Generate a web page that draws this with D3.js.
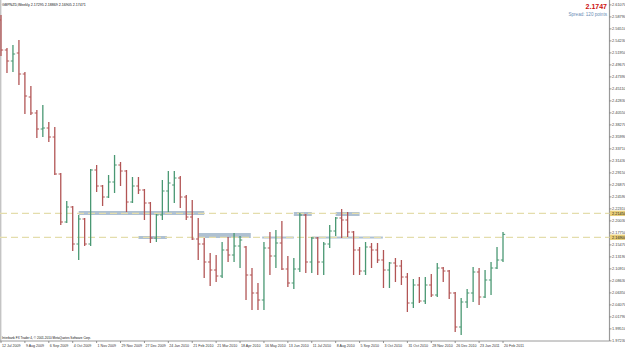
<!DOCTYPE html>
<html><head><meta charset="utf-8">
<script src="https://cdn.jsdelivr.net/npm/d3@7"></script>
<style>html,body{margin:0;padding:0;background:#fff;overflow:hidden}svg{display:block}</style>
</head><body><svg id="c" width="625" height="349"></svg>
<script>
// ---------------- data ----------------
const symbol = "GBPNZD,Weekly";
const titleValues = ["2.17295", "2.18869", "2.16905", "2.17471"];
const lastPrice = "2.1747";
const spreadText = "Spread: 120 points";
const footerText = "Interbank FX Trader 4, \u00A9 2001-2010 MetaQuotes Software Corp.";

// weekly bars, index 0 = week of 12 Jul 2009, index 84 = week of 20 Feb 2011
const opens = [2.5820,2.5250,2.5041,2.5193,2.4794,2.4357,2.4053,2.3749,2.3768,2.3597,
2.2894,2.1982,2.2267,2.1564,2.2039,2.1564,2.2970,2.2666,2.2457,2.2742,
2.3065,2.2951,2.2362,2.2666,2.2590,2.2343,2.1678,2.2115,2.2571,2.2685,
2.2818,2.2457,2.2077,2.1659,2.1564,2.1222,2.1070,2.0956,2.1450,2.1355,
2.1526,2.1507,2.0975,2.0633,2.0500,2.1488,2.1336,2.1583,2.1089,2.0823,
2.1089,2.2115,2.1222,2.1678,2.1222,2.1564,2.1811,2.2058,2.2020,2.1792,
2.1450,2.1051,2.1507,2.1450,2.1260,2.1070,2.1203,2.1146,2.0937,2.0443,
2.0785,2.0481,2.0785,2.0595,2.1108,2.1051,2.0633,1.9987,2.0462,2.0633,
2.1032,2.0557,2.0880,2.1108,2.1260];
const highs = [2.5915,2.5288,2.5345,2.5440,2.4832,2.4566,2.4110,2.4205,2.3882,2.3787,
2.2913,2.2381,2.2286,2.2115,2.2058,2.2989,2.3065,2.2685,2.2875,2.3255,
2.3122,2.2970,2.2837,2.2837,2.2609,2.2362,2.2134,2.2780,2.2951,2.2951,
2.2856,2.2495,2.2400,2.2058,2.1678,2.1393,2.1355,2.1602,2.1697,2.1773,
2.1716,2.1526,2.1108,2.0823,2.1602,2.1792,2.1830,2.2001,2.1336,2.1298,
2.2153,2.2134,2.1697,2.1697,2.1602,2.1925,2.2077,2.2229,2.2172,2.1811,
2.1507,2.1602,2.1583,2.1583,2.1450,2.1222,2.1298,2.1260,2.1013,2.0899,
2.0937,2.0937,2.0994,2.1203,2.1127,2.1070,2.0652,2.0538,2.0709,2.1127,
2.1108,2.1070,2.1222,2.1507,2.1790];
const lows = [2.5136,2.4813,2.4832,2.4585,2.4034,2.4015,2.3578,2.3597,2.3502,2.2875,
2.1925,2.1963,2.1431,2.1260,2.1526,2.1526,2.2552,2.2286,2.2438,2.2533,
2.2666,2.2172,2.2343,2.2514,2.2020,2.1583,2.1602,2.2020,2.2172,2.2343,
2.2248,2.2020,2.1640,2.1260,2.0918,2.0766,2.0842,2.0918,2.1222,2.1222,
2.1108,2.0500,2.0310,2.0310,2.0310,2.0975,2.1108,2.1070,2.0747,2.0709,
2.1032,2.1013,2.1013,2.0975,2.0975,2.1488,2.1716,2.1678,2.1697,2.0975,
2.0975,2.0975,2.1108,2.1203,2.0728,2.0728,2.0842,2.0785,2.0272,2.0348,
2.0443,2.0424,2.0557,2.0557,2.0842,2.0519,1.9892,1.9835,2.0348,2.0462,
2.0405,2.0538,2.0595,2.1089,2.1222];
const closes = [2.5250,2.5041,2.5174,2.4794,2.4376,2.4053,2.3749,2.3768,2.3597,2.2894,
2.1982,2.2267,2.1564,2.2039,2.1564,2.2970,2.2666,2.2457,2.2742,2.3065,
2.2951,2.2362,2.2666,2.2590,2.2343,2.1678,2.2115,2.2571,2.2723,2.2818,
2.2457,2.2077,2.1659,2.1564,2.1222,2.1070,2.0956,2.1450,2.1355,2.1526,
2.1640,2.0975,2.0633,2.0500,2.1488,2.1336,2.1583,2.1089,2.0823,2.1089,
2.2115,2.1222,2.1678,2.1222,2.1564,2.1811,2.2058,2.2020,2.1792,2.1450,
2.1051,2.1507,2.1450,2.1260,2.1070,2.1203,2.1146,2.0937,2.0443,2.0785,
2.0481,2.0785,2.0595,2.1108,2.1051,2.0633,1.9987,2.0462,2.0633,2.1032,
2.0557,2.0880,2.1108,2.1260,2.1747];

const dateLabels = ["12 Jul 2009","9 Aug 2009","6 Sep 2009","4 Oct 2009","1 Nov 2009","29 Nov 2009",
"27 Dec 2009","24 Jan 2010","21 Feb 2010","21 Mar 2010","18 Apr 2010","16 May 2010","13 Jun 2010",
"11 Jul 2010","8 Aug 2010","5 Sep 2010","3 Oct 2010","31 Oct 2010","28 Nov 2010","26 Dec 2010",
"23 Jan 2011","20 Feb 2011"];
const dateLabelIndex = [0,4,8,12,16,20,24,28,32,36,40,44,48,52,56,60,64,68,72,76,80,84];

const priceTicks = [1.97230,1.99510,2.01790,2.04070,2.06350,2.08630,2.10910,2.13190,2.15470,
2.17750,2.20030,2.22310,2.24590,2.26870,2.29150,2.31430,2.33710,2.35990,2.38270,2.40550,
2.42830,2.45110,2.47390,2.49670,2.51950,2.54230,2.56510,2.58790,2.61070];

const levelLines = [2.2145, 2.1690];

// drawn zone objects (bar index span, price span)
const zoneStart = [13, 23, 33, 49, 56, 43.7, 52];
const zoneEnd   = [34, 27.75, 41.8, 52, 60, 49, 63.9];
const zoneHigh  = [2.2191, 2.1716, 2.1773, 2.2172, 2.2172, 2.1706, 2.1706];
const zoneLow   = [2.2115, 2.1659, 2.1678, 2.2096, 2.2096, 2.1668, 2.1668];

// ---------------- drawing ----------------
const plotRight = 609.5, plotBottom = 341;
const svg = d3.select("#c");
const FONT = "'Liberation Sans', Arial, sans-serif";

const x = d3.scaleLinear().domain([0, 84]).range([1, 503]);
const y = d3.scaleLinear().domain([1.9721, 2.62]).range([341, 0]);

const bars = opens.map((o, i) => ({i, o, h: highs[i], l: lows[i], c: closes[i]}));

// frame
svg.append("line").attr("x1", 0.7).attr("x2", 0.7).attr("y1", 0).attr("y2", plotBottom)
  .attr("stroke", "#c4c4c4").attr("stroke-width", 1.4);
svg.append("line").attr("x1", 0).attr("x2", plotRight).attr("y1", plotBottom).attr("y2", plotBottom)
  .attr("stroke", "#9a9a9a").attr("stroke-width", 1);
svg.append("line").attr("x1", plotRight).attr("x2", plotRight).attr("y1", 0).attr("y2", plotBottom)
  .attr("stroke", "#9a9a9a").attr("stroke-width", 1.2);

// zones
const zones = zoneStart.map((s, k) => ({s, e: zoneEnd[k], hi: zoneHigh[k], lo: zoneLow[k]}));
svg.append("g").selectAll("rect").data(zones).join("rect")
  .attr("x", d => x(d.s)).attr("width", d => x(d.e) - x(d.s))
  .attr("y", d => y(d.hi)).attr("height", d => y(d.lo) - y(d.hi))
  .attr("fill", "#a6bacd").attr("opacity", 0.9);

// dashed level lines
svg.append("g").selectAll("line").data(levelLines).join("line")
  .attr("x1", 0).attr("x2", plotRight).attr("y1", d => y(d)).attr("y2", d => y(d))
  .attr("stroke", "#e4ddac").attr("stroke-width", 1.4).attr("stroke-dasharray", "7,4");

// bars
const RED = "#b25555", GREEN = "#4a9873";
const g = svg.append("g");
bars.forEach(d => {
  const col = d.c >= d.o ? GREEN : RED;
  const xx = x(d.i);
  g.append("line").attr("x1", xx).attr("x2", xx).attr("y1", y(d.h)).attr("y2", y(d.l))
    .attr("stroke", col).attr("stroke-width", 1.3);
  g.append("line").attr("x1", xx - 2.2).attr("x2", xx).attr("y1", y(d.o)).attr("y2", y(d.o))
    .attr("stroke", col).attr("stroke-width", 1);
  g.append("line").attr("x1", xx).attr("x2", xx + 2.2).attr("y1", y(d.c)).attr("y2", y(d.c))
    .attr("stroke", col).attr("stroke-width", 1);
});

// right price axis
const ya = svg.append("g");
priceTicks.forEach(p => {
  ya.append("line").attr("x1", plotRight).attr("x2", plotRight + 2).attr("y1", y(p)).attr("y2", y(p))
    .attr("stroke", "#777").attr("stroke-width", 0.8);
  ya.append("text").attr("x", plotRight + 2.5).attr("y", y(p) + 1.4).text(p.toFixed(5))
    .attr("font-family", FONT).attr("font-size", 3.9).attr("fill", "#444");
});
levelLines.forEach(p => {
  ya.append("rect").attr("x", plotRight + 0.5).attr("y", y(p) - 2.8).attr("width", 16).attr("height", 5.4)
    .attr("fill", "#e9cf7a");
  ya.append("text").attr("x", plotRight + 2.5).attr("y", y(p) + 1.4).text(p.toFixed(5))
    .attr("font-family", FONT).attr("font-size", 3.9).attr("fill", "#111");
});

// bottom date axis
const xa = svg.append("g");
dateLabelIndex.forEach((idx, k) => {
  xa.append("line").attr("x1", x(idx)).attr("x2", x(idx)).attr("y1", plotBottom).attr("y2", plotBottom + 2)
    .attr("stroke", "#777").attr("stroke-width", 0.8);
  xa.append("text").attr("x", x(idx) + 1).attr("y", 346.8).text(dateLabels[k])
    .attr("font-family", FONT).attr("font-size", 3.6).attr("fill", "#333");
});

// texts
svg.append("text").attr("x", 2).attr("y", 5.6).text(symbol + "  " + titleValues.join(" "))
  .attr("font-family", FONT).attr("font-size", 3.6).attr("fill", "#111");
svg.append("text").attr("x", 2).attr("y", 339).text(footerText)
  .attr("font-family", FONT).attr("font-size", 3.1).attr("fill", "#111");
svg.append("text").attr("x", 607).attr("y", 9.2).attr("text-anchor", "end").text(lastPrice)
  .attr("font-family", FONT).attr("font-size", 7).attr("font-weight", "bold").attr("fill", "#cc1010");
svg.append("text").attr("x", 607).attr("y", 15.6).attr("text-anchor", "end").text(spreadText)
  .attr("font-family", FONT).attr("font-size", 4.6).attr("fill", "#6a8db5");
</script>
</body></html>
